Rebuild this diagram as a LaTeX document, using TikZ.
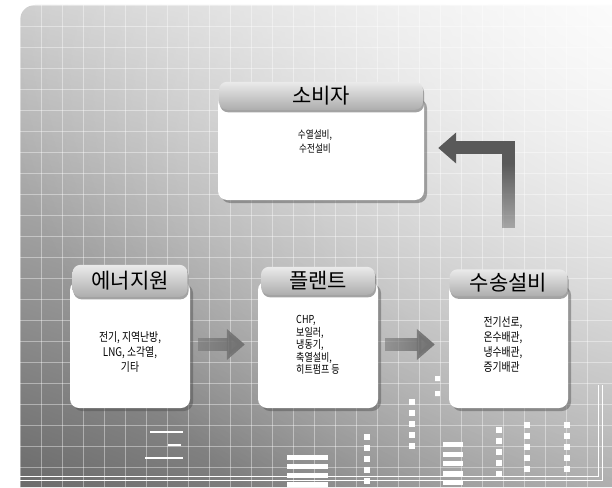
\documentclass[tikz,border=0pt]{standalone}
\usepackage{fontspec}
\newfontfamily\kr{Noto Sans CJK KR}
\newfontfamily\krnarrow[FakeStretch=0.82]{Noto Sans CJK KR}
\usepackage{tikz}
\usetikzlibrary{arrows.meta, shadows, shadings, fadings, positioning, calc}

% fading for the short arrows (light tail, solid head)
\begin{tikzfadingfrompicture}[name=fadeR]
\path (-60bp,-200bp) rectangle (60bp,200bp);
\shade[left color=transparent!100, right color=transparent!0] (-50bp,-200bp) rectangle (10bp,200bp);
\fill[transparent!0] (10bp,-200bp) rectangle (60bp,200bp);
\end{tikzfadingfrompicture}

% fading for the bent arrow (solid top, light foot)
\begin{tikzfadingfrompicture}[name=fadeL]
\path (-60bp,-200bp) rectangle (60bp,200bp);
\shade[top color=transparent!0, bottom color=transparent!88] (-60bp,-20bp) rectangle (60bp,17bp);
\fill[transparent!0] (-60bp,17bp) rectangle (60bp,200bp);
\end{tikzfadingfrompicture}

% soft white glow for the upper right corner
\tikzfading[name=glow, inner color=transparent!0, outer color=transparent!100]

\tikzset{
  box/.style={fill=white, rounded corners=9pt, inner sep=0pt,
    drop shadow={shadow xshift=3pt, shadow yshift=-3pt, opacity=.45, fill=black!70}},
  head/.style={rounded corners=8pt, top color=black!8, bottom color=black!32, inner sep=0pt,
    font=\kr\fontsize{21}{21}\selectfont,
    drop shadow={shadow xshift=1pt, shadow yshift=-2.5pt, opacity=.55, fill=black!65}},
  item/.style={font=\krnarrow\fontsize{12}{15}\selectfont, inner sep=0pt},
  flow/.style={line width=13pt, line join=miter, draw=black!55, -{Triangle[length=18pt,width=30pt]}},
  gridline/.style={white, line width=.8pt, opacity=.4},
  bar/.style={fill=white}
}

\begin{document}
\begin{tikzpicture}[x=1pt, y=-1pt]
\useasboundingbox (0,0) rectangle (612,487);

% background
\shade[upper left=black!20, upper right=black!10, lower left=black!58, lower right=black!40]
  (20,487) [rounded corners=15pt] -- (20,5) [sharp corners] -- (612,5) -- (612,487) -- cycle;
\fill[white, path fading=glow] (680,-60) circle (700);
\foreach \x in {20,41,...,600} \draw[gridline] (\x,5) -- (\x,487);
\foreach \y in {5,26,...,487} \draw[gridline] (20,\y) -- (612,\y);

% decoration at the bottom
\draw[white, line width=1.5pt] (150,432) -- (183,432) (168,445) -- (181,445) (145,458) -- (183,458);
\foreach \y in {455,464,473,482} \fill[bar] (287,\y) rectangle (328,\y+5);
\foreach \y in {442,451.5,461,470.5,480} \fill[bar] (443,\y) rectangle (463,\y+5);
\foreach \x/\t in {367/440, 412/405, 499/433, 527/428, 567/428}
  \foreach \i in {0,...,4} \fill[bar] (\x-3,\t+11*\i) rectangle ++(6,-6);
\fill[bar] (435,381) rectangle ++(5,-5) (435,396) rectangle ++(5,-5);
\draw[white, line width=1pt] (8,476) -- (598,476) -- (598,385);
\draw[white, line width=1pt] (8,480) -- (602,480) -- (602,385);

% blocks
\node[box, minimum width=206pt, minimum height=104pt] (cons) at (321,148) {};
\node[head, minimum width=204pt, minimum height=28pt] (conshead) at (cons.north) {소비자};
\node[item, font=\krnarrow\fontsize{10.5}{14}\selectfont, align=center] (constxt) at (315,142) {수열설비,\\수전설비};

\node[box, minimum width=120pt, minimum height=127pt] (src) at (130,344.5) {};
\node[head, minimum width=115pt, minimum height=32pt] (srchead) at (src.north) {에너지원};
\node[item, align=center] (srctxt) at (130,352) {전기, 지역난방,\\LNG, 소각열,\\기타};

\node[box, minimum width=120pt, minimum height=127pt] (plant) at (318,344.5) {};
\node[head, minimum width=114pt, minimum height=28pt] (planthead) at (plant.north) {플랜트};
\node[item, font=\krnarrow\fontsize{11}{12.5}\selectfont, align=left] (planttxt) at (318,345) {CHP,\\보일러,\\냉동기,\\축열설비,\\히트펌프 등};

\node[box, minimum width=119pt, minimum height=125pt] (trans) at (508.5,345.5) {};
\node[head, minimum width=118pt, minimum height=27pt] (transhead) at (trans.north) {수송설비};
\node[item, align=left] (transtxt) at (503,345) {전기선로,\\온수배관,\\냉수배관,\\증기배관};

% connectors
\draw[flow, path fading=fadeR, shorten <=8pt, shorten >=13pt] (src) -- (plant);
\draw[flow, path fading=fadeR, shorten <=7pt, shorten >=14pt] (plant) -- (plant -| trans.west);
\draw[flow, draw=black!65, path fading=fadeL, shorten <=41pt, shorten >=14pt] (transhead.north) |- (cons.east);
\end{tikzpicture}
\end{document}
